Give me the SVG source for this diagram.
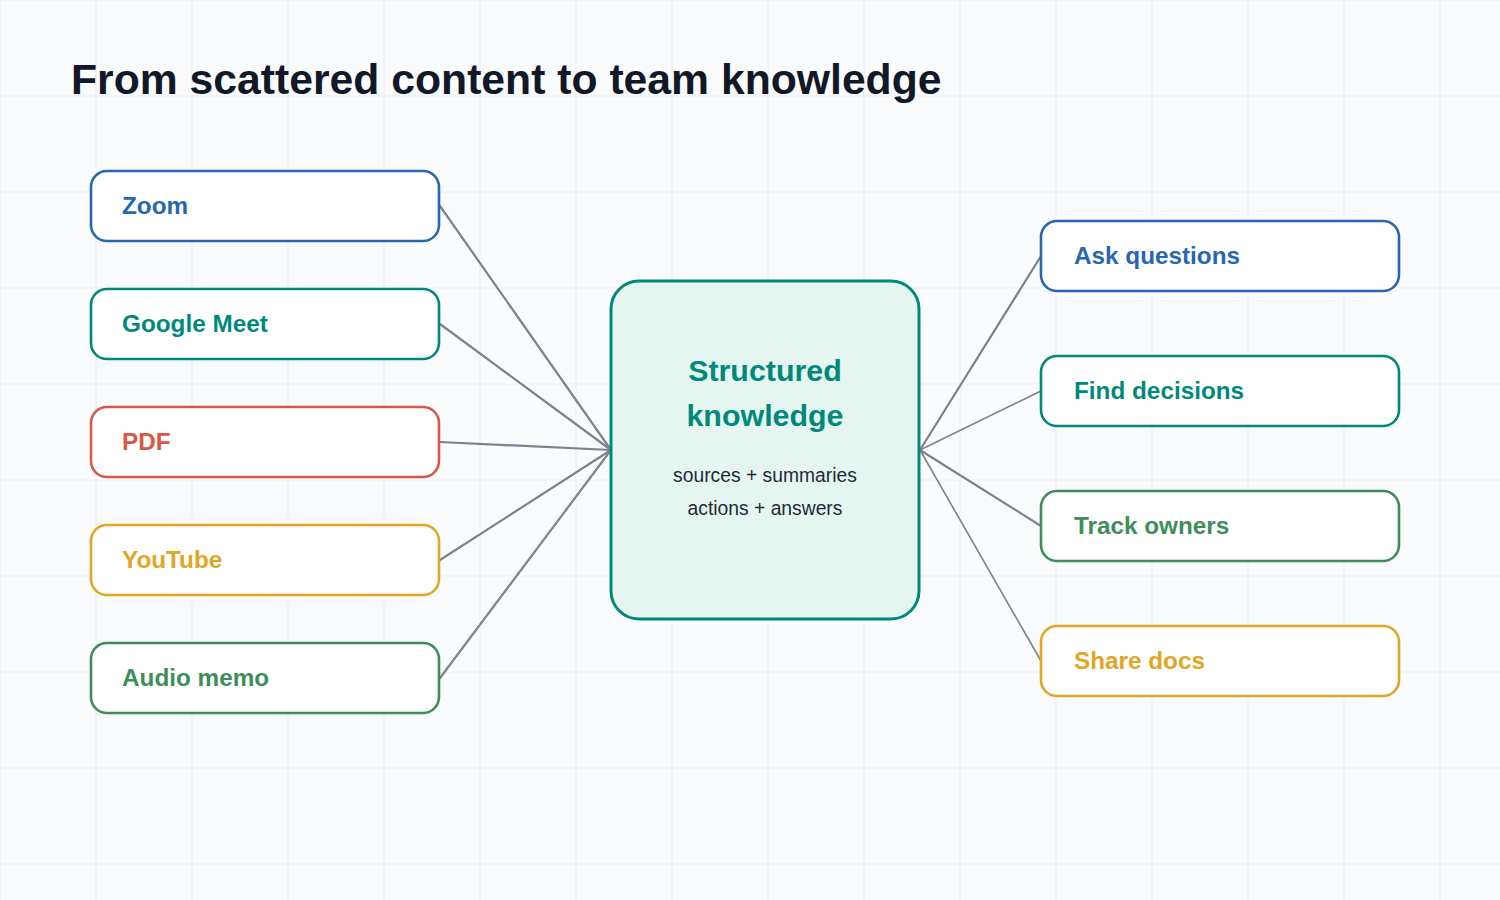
<svg xmlns="http://www.w3.org/2000/svg" width="1500" height="900" viewBox="0 0 1500 900">
  <defs>
    <pattern id="grid" width="96" height="96" patternUnits="userSpaceOnUse">
      <path d="M96 0 V96 M0 96 H96" fill="none" stroke="#edf0f5" stroke-width="1.2"/>
      <path d="M0 0 V96 M0 0 H96" fill="none" stroke="#edf0f5" stroke-width="1.2"/>
    </pattern>
    <style>
      .node rect { fill: #ffffff; stroke-width: 2.6; }
      .lbl { font-family: "Liberation Sans", Arial, sans-serif; font-weight: bold; font-size: 24.3px; }
      .blue rect { stroke: #2767b1; } .blue text { fill: #2767b1; }
      .teal rect { stroke: #00897b; } .teal text { fill: #00897b; }
      .red rect { stroke: #d85846; } .red text { fill: #d85846; }
      .amber rect { stroke: #e0a624; } .amber text { fill: #e0a624; }
      .green rect { stroke: #3f8d5a; } .green text { fill: #3f8d5a; }
      .conn line { stroke: #7b838f; stroke-linecap: round; }
    </style>
  </defs>
  <rect width="1500" height="900" fill="#f9fbfd"/>
  <rect width="1500" height="900" fill="url(#grid)"/>

  <text x="71" y="94" font-family="'Liberation Sans', Arial, sans-serif" font-weight="bold" font-size="42.7" fill="#111827">From scattered content to team knowledge</text>

  <g id="connectors" class="conn">
    <line x1="440" y1="206" x2="611" y2="450" stroke-width="2.2"/>
    <line x1="440" y1="324" x2="611" y2="450" stroke-width="2.2"/>
    <line x1="440" y1="442" x2="611" y2="450" stroke-width="2.2"/>
    <line x1="440" y1="560" x2="611" y2="450" stroke-width="2.2"/>
    <line x1="440" y1="678" x2="611" y2="450" stroke-width="2.2"/>
    <line x1="920" y1="450" x2="1041" y2="256" stroke-width="2.2"/>
    <line x1="920" y1="450" x2="1041" y2="391" stroke-width="1.6"/>
    <line x1="920" y1="450" x2="1041" y2="526" stroke-width="2.2"/>
    <line x1="920" y1="450" x2="1041" y2="661" stroke-width="1.6"/>
  </g>

  <g id="zoom" class="node blue">
    <rect x="91" y="171" width="348" height="70" rx="16"/>
    <text class="lbl" x="122" y="214">Zoom</text>
  </g>
  <g id="google-meet" class="node teal">
    <rect x="91" y="289" width="348" height="70" rx="16"/>
    <text class="lbl" x="122" y="332">Google Meet</text>
  </g>
  <g id="pdf" class="node red">
    <rect x="91" y="407" width="348" height="70" rx="16"/>
    <text class="lbl" x="122" y="450">PDF</text>
  </g>
  <g id="youtube" class="node amber">
    <rect x="91" y="525" width="348" height="70" rx="16"/>
    <text class="lbl" x="122" y="568">YouTube</text>
  </g>
  <g id="audio-memo" class="node green">
    <rect x="91" y="643" width="348" height="70" rx="16"/>
    <text class="lbl" x="122" y="686">Audio memo</text>
  </g>

  <g id="structured-knowledge">
    <rect x="611" y="281" width="308" height="338" rx="28" fill="#e5f6f1" stroke="#00897b" stroke-width="3"/>
    <text x="765" y="381" text-anchor="middle" font-family="'Liberation Sans', Arial, sans-serif" font-weight="bold" font-size="30.4" fill="#00897b">Structured</text>
    <text x="765" y="426" text-anchor="middle" font-family="'Liberation Sans', Arial, sans-serif" font-weight="bold" font-size="30.4" fill="#00897b">knowledge</text>
    <text x="765" y="482" text-anchor="middle" font-family="'Liberation Sans', Arial, sans-serif" font-size="19.3" fill="#1f2937">sources + summaries</text>
    <text x="765" y="515" text-anchor="middle" font-family="'Liberation Sans', Arial, sans-serif" font-size="19.3" fill="#1f2937">actions + answers</text>
  </g>

  <g id="ask-questions" class="node blue">
    <rect x="1041" y="221" width="358" height="70" rx="16"/>
    <text class="lbl" x="1074" y="264">Ask questions</text>
  </g>
  <g id="find-decisions" class="node teal">
    <rect x="1041" y="356" width="358" height="70" rx="16"/>
    <text class="lbl" x="1074" y="399">Find decisions</text>
  </g>
  <g id="track-owners" class="node green">
    <rect x="1041" y="491" width="358" height="70" rx="16"/>
    <text class="lbl" x="1074" y="534">Track owners</text>
  </g>
  <g id="share-docs" class="node amber">
    <rect x="1041" y="626" width="358" height="70" rx="16"/>
    <text class="lbl" x="1074" y="669">Share docs</text>
  </g>
</svg>
